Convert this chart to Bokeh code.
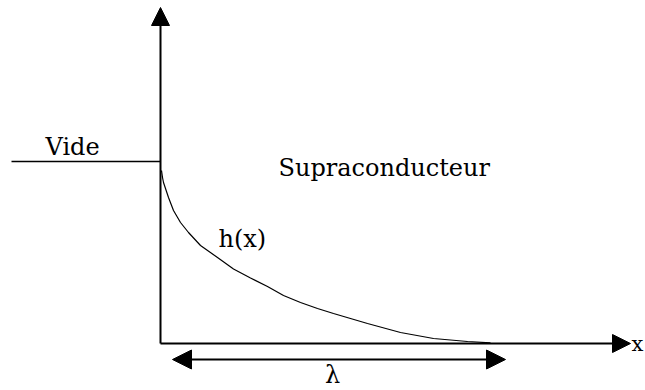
from bokeh.plotting import figure
from bokeh.models import Range1d, Arrow, NormalHead, ColumnDataSource
from bokeh.core.properties import value
from bokeh.embed import file_html
from bokeh.resources import INLINE

# ---- data (units: distance from the vacuum/superconductor interface) ----
curve_x = [1, 2, 3, 8, 13, 20, 28, 40, 57, 73, 90, 107, 123, 140, 157, 173, 190, 207, 240, 273, 307, 330]
curve_h = [173, 166, 161, 146, 133, 121, 111, 98, 86, 74.5, 65.5, 57, 48, 41, 35, 30, 25, 20, 11, 5, 2, 0.7]

vide_x = [-149, 0]
vide_h = [182, 182]

axis_x_end = 470      # end of the x axis arrow
axis_y_end = 336      # end of the vertical arrow
lambda_x = [12, 345]  # extent of the lambda double arrow
lambda_y = -16

label_text = ["Vide", "Supraconducteur", "h(x)"]
label_x = [-115, 118, 58]
label_y = [197, 176, 105]

axis_label = ["x"]
axis_label_x = [471]
axis_label_y = [0]

lambda_label = ["λ"]
lambda_label_x = [172]
lambda_label_y = [-31]

FONT = value("DejaVu Serif")

p = figure(width=645, height=390,
           x_range=Range1d(-160, 485), y_range=Range1d(-47, 343),
           output_backend="svg", toolbar_location=None,
           x_axis_type=None, y_axis_type=None,
           min_border=0, outline_line_color=None,
           background_fill_color="white", border_fill_color="white")
p.grid.visible = False

# vacuum level line
p.line(vide_x, vide_h, line_color="black", line_width=1.5)

# h(x) decay curve
p.line(curve_x, curve_h, line_color="black", line_width=1.2)

# axes drawn as arrows
axes_src = ColumnDataSource(dict(x0=[0, 0], y0=[0, 0],
                                 x1=[0, axis_x_end], y1=[axis_y_end, 0]))
p.add_layout(Arrow(source=axes_src, x_start="x0", y_start="y0",
                   x_end="x1", y_end="y1", line_color="black", line_width=2,
                   end=NormalHead(size=18, fill_color="black", line_color="black",
                                  line_width=1)))

# lambda double arrow
p.add_layout(Arrow(x_start=lambda_x[0], y_start=lambda_y,
                   x_end=lambda_x[1], y_end=lambda_y,
                   line_color="black", line_width=2,
                   start=NormalHead(size=19, fill_color="black", line_color="black",
                                    line_width=1),
                   end=NormalHead(size=19, fill_color="black", line_color="black",
                                  line_width=1)))

# labels
p.text(x=label_x, y=label_y, text=label_text, text_font=FONT,
       text_font_size="24px", text_color="black",
       text_align="left", text_baseline="alphabetic")
p.text(x=axis_label_x, y=axis_label_y, text=axis_label, text_font=FONT,
       text_font_size="21px", text_color="black",
       text_align="left", text_baseline="alphabetic")
p.text(x=lambda_label_x, y=lambda_label_y, text=lambda_label, text_font=FONT,
       text_font_size="24px", text_color="black",
       text_align="center", text_baseline="alphabetic")

open("out.html", "w").write(file_html(p, INLINE))
